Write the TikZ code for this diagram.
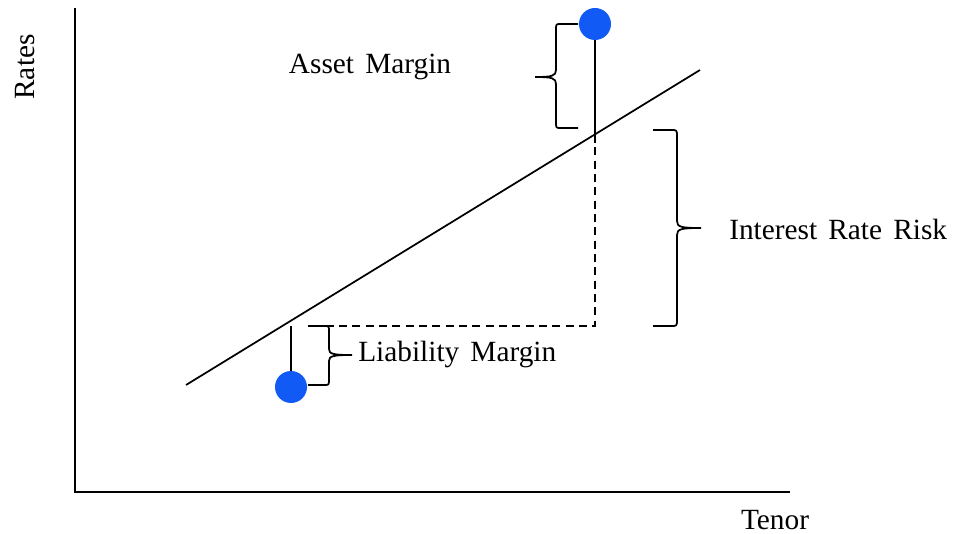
\documentclass[tikz,border=0pt]{standalone}
\usepackage{fontspec}
\setmainfont{Liberation Serif}
\definecolor{dotblue}{RGB}{18,90,245}
\newcommand\mylblfont{\fontsize{22}{26}\selectfont\spaceskip 0.38em plus 0.1em\relax}
\begin{document}
\begin{tikzpicture}[x=0.75pt,y=-0.75pt,
  lbl/.style={font=\mylblfont, inner sep=0pt},
  ln/.style={line width=1.3pt},
  dsh/.style={line width=1.2pt, dash pattern=on 6pt off 4pt},
  dot/.style={circle, fill=dotblue, minimum size=24pt, inner sep=0pt}]
\useasboundingbox (0,0) rectangle (953,534);
% axes
\coordinate (ytop) at (75,8);
\coordinate (orig) at (75,492);
\coordinate (xend) at (790,492);
\draw[ln] (ytop) -- (orig) -- (xend);
\node[lbl, rotate=90] (rates) at (25,67) {Rates};
\node[lbl] (tenor) at (775,520) {Tenor};
% yield line
\coordinate (l0) at (186,385);
\coordinate (l1) at (700,70);
\draw[ln] (l0) -- (l1);
% dots
\node[dot] (adot) at (595,24) {};
\node[dot] (ldot) at (291,387) {};
\coordinate (abase) at (595,143);
\coordinate (across) at (595,134);
\coordinate (corner) at (595,326);
\coordinate (lleft) at (308,326);
\coordinate (ltop) at (291,326);
\draw[ln] (adot) -- (abase);
\draw[ln] (ldot) -- (ltop);
\draw[dsh] (across) -- (corner) -- (lleft);
% asset brace (left-facing)
\draw[ln] (578,24) -- (561,24) .. controls (556,24) .. (556,30) -- (556,70)
  .. controls (556,76) and (552,77) .. (535,77)
  .. controls (552,77) and (556,78) .. (556,84) -- (556,122)
  .. controls (556,128) .. (561,128) -- (578,128);
\node[lbl] (asset) at (370,67) {Asset Margin};
% liability brace (right-facing)
\draw[ln] (308,326) -- (324,326) .. controls (329,326) .. (329,332) -- (329,349)
  .. controls (329,354) and (333,355) .. (352,355)
  .. controls (333,355) and (329,356) .. (329,361) -- (329,379)
  .. controls (329,385) .. (324,385) -- (308,385);
\node[lbl, anchor=west] (liab) at (358,354) {Liability Margin};
% interest brace (right-facing)
\draw[ln] (653,130) -- (671,130) .. controls (677,130) .. (677,137) -- (677,221)
  .. controls (677,227) and (681,228) .. (701,228)
  .. controls (681,228) and (677,229) .. (677,235) -- (677,319)
  .. controls (677,326) .. (671,326) -- (653,326);
\node[lbl, anchor=west] (irr) at (729,229) {Interest Rate Risk};
\end{tikzpicture}
\end{document}
